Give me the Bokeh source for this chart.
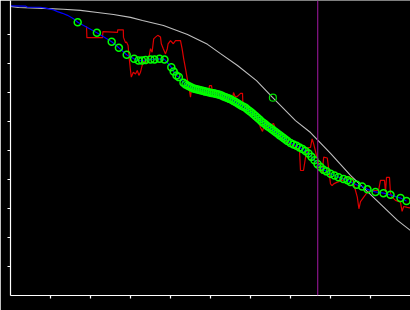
from bokeh.plotting import figure
from bokeh.models import Range1d, FixedTicker, Span
from bokeh.embed import file_html
from bokeh.resources import INLINE

# ---- data ----
tick_values = [10, 20, 30, 40, 50, 60, 70, 80, 90]

model_x = [0, 2, 8.25, 13.25, 17.5, 21.75, 25.75, 30, 33, 38.25, 44.25, 49.25, 52.5,
           56.75, 61.5, 65.5, 71.25, 75, 80, 85, 90.75, 96.75, 100]
model_y = [99.7, 99.3, 99.0, 98.7, 98.3, 97.6, 96.9, 95.9, 94.8, 93.1, 90.0, 86.6, 83.4,
           79.3, 74.1, 68.3, 60.3, 56.2, 49.0, 41.4, 33.8, 25.9, 22.4]

lead_x = [0, 3.75, 4.25, 7.5, 8.75, 10.5, 11.75, 13, 14.25, 15.75]
lead_y = [99.9, 99.8, 99.4, 99.4, 99.1, 98.6, 97.9, 97.3, 96.6, 95.4]

smooth_x = [16.8, 21.6, 25.3, 27.1, 29.05, 30.9, 32, 32.9, 33.75, 35, 36, 37.25, 38.5,
            40.2, 40.8, 41.5, 42.1,
            43.25, 43.75, 44.25, 44.75, 45.25, 45.75, 46.25, 46.75, 47.25, 47.75, 48.25,
            48.75, 49.25, 49.75, 50.25, 50.75, 51.25, 51.75, 52.25, 52.75, 53.25, 53.75,
            54.25, 54.75, 55.25, 55.75, 56.25, 56.75, 57.25, 57.75, 58.25, 58.75, 59.25,
            59.75, 60.25, 60.75, 61.25, 61.75, 62.25, 62.75, 63.25, 63.75, 64.25, 64.75,
            65.25, 65.75, 66.25, 66.75, 67.25, 67.75, 68.25, 68.75, 69.25, 70, 70.75, 71.5,
            72.25, 73, 73.75, 74.5, 75.25, 76, 76.75, 77.5, 78.25, 79, 80, 81, 82, 83.25,
            84.25, 85, 86.5, 87.9, 89.25, 91.25, 93.25, 95, 97.5, 99]
smooth_y = [94.2, 90.6, 87.5, 85.4, 83.0, 81.6, 81.0, 81.0, 81.2, 81.4, 81.4, 81.6, 81.4,
            78.7, 77.2, 75.9, 75.3,
            73.4, 72.8, 72.4, 72.1, 71.7, 71.4, 71.2, 71.0, 70.9, 70.7, 70.5,
            70.3, 70.2, 70.0, 69.8, 69.7, 69.6, 69.4, 69.2, 69.0, 68.6, 68.4,
            68.1, 67.8, 67.5, 67.1, 66.7, 66.3, 65.9, 65.4, 65.1, 64.7, 64.1,
            63.6, 63.1, 62.5, 61.9, 61.3, 60.7, 60.0, 59.5, 59.0, 58.4, 57.9,
            57.4, 56.9, 56.4, 55.9, 55.3, 54.8, 54.3, 53.8, 53.3, 52.6, 52.1, 51.6,
            51.0, 50.5, 49.8, 49.0, 47.8, 46.6, 45.3, 44.3, 43.4, 42.8, 42.0, 41.4, 40.8, 40.2,
            39.7, 39.1, 38.2, 37.6, 36.6, 35.7, 35.3, 34.7, 33.6, 32.6]

extra_x = [65.6]
extra_y = [68.2]

raw_x = [19, 19.1, 23, 23.1, 26.75, 26.8, 28.2, 28.25, 28.75, 29, 29.4, 29.6, 30, 30.2,
         30.7, 31.25, 31.7, 32.1, 32.5, 32.9, 33.3, 34, 34.6, 35, 35.4, 35.8, 36.25, 36.8,
         37.5, 37.7, 38.2, 38.75, 39.2, 39.4, 40, 40.7, 41.25, 42.5, 42.9, 43.3, 43.75,
         44.2, 44.6, 45, 45.2, 45.5, 46.5, 47.5, 48.75, 49.5, 49.75, 50.25, 50.5, 51.5, 53,
         54.5, 55.5, 55.75, 56.25, 57, 57.5, 58, 58.1, 58.75, 60, 61.25, 62, 62.5, 63, 63.5,
         64, 64.5, 65, 65.75, 66.5, 67.5, 68.75, 70, 71.25, 72.25, 72.5, 73.25, 73.75, 74.5,
         75, 75.4, 75.8, 76.7, 77.5, 77.9, 78.3, 79.2, 79.6, 80, 80.4, 80.8, 81.7, 83, 84.5,
         85.5, 86.25, 86.7, 87.1, 87.5, 88.3, 89.2, 90.5, 92, 92.5, 93.5, 93.75, 94, 94.75,
         95, 95.4, 96.25, 97.5, 97.9, 98.3, 99.2, 100]
raw_y = [92.8, 88.9, 88.9, 91.0, 90.7, 91.6, 91.6, 89.0, 87.2, 87.4, 86.2, 82.8, 77.6, 75.3,
         77.0, 76.4, 77.6, 75.9, 77.0, 79.3, 81.0, 79.9, 82.2, 85.1, 83.9, 88.5, 89.1, 89.7,
         89.1, 86.8, 85.1, 83.3, 85.1, 86.8, 87.9, 86.8, 87.9, 87.9, 85.1, 81.6, 78.2,
         74.7, 71.8, 68.4, 70.7, 71.4, 70.7, 70.3, 70.0, 70.3, 72.4, 72.4, 70.0, 69.7, 68.6,
         67.9, 67.6, 70.0, 68.3, 69.0, 69.7, 69.7, 66.2, 65.2, 63.4, 61.7, 60.3, 57.9, 56.6, 59.0,
         60.3, 57.6, 58.6, 59.3, 56.6, 54.5, 53.4, 52.4, 51.4, 50.0, 43.1, 43.1, 47.6, 51.0,
         51.1, 54.0, 52.3, 47.1, 43.6, 42.0, 47.7, 47.4, 43.1, 38.5, 37.9, 38.5, 39.1, 39.7, 41.0,
         40.3, 36.2, 33.9, 29.9, 32.4, 33.9, 35.6, 36.2, 36.2, 39.7, 39.7, 35.6, 40.7, 40.7,
         35.2, 33.9, 32.8, 32.2, 29.0, 30.7, 30.4, 30.2]

cut_x = 76.8

# ---- figure ----
p = figure(width=410, height=310, output_backend="svg", toolbar_location=None,
           x_range=Range1d(0, 100), y_range=Range1d(0, 101.72),
           min_border_left=10, min_border_right=0, min_border_top=0, min_border_bottom=15)
p.background_fill_color = "black"
p.border_fill_color = "black"
p.outline_line_color = None
p.grid.visible = False

for ax in (p.xaxis[0], p.yaxis[0]):
    ax.ticker = FixedTicker(ticks=tick_values)
    ax.major_label_overrides = {t: "" for t in tick_values}
    ax.axis_line_color = "white"
    ax.axis_line_width = 1.2
    ax.major_tick_line_color = "white"
    ax.major_tick_line_width = 1.2
    ax.minor_tick_line_color = None
    ax.major_tick_out = 3
    ax.major_tick_in = 0
    ax.major_label_text_font_size = "1px"
    ax.major_label_standoff = 0

p.add_layout(Span(location=cut_x, dimension="height", line_color="#8a148a", line_width=1.2))

p.line(model_x, model_y, line_color="#bebebe", line_width=1.1)
p.line(raw_x, raw_y, line_color="#dd0000", line_width=1.2)
p.line(lead_x + smooth_x, lead_y + smooth_y, line_color="#0000ff", line_width=1.2)
p.scatter(smooth_x, smooth_y, marker="circle", size=7, fill_color=None,
          line_color="#00ff00", line_width=1.5)
p.scatter(extra_x, extra_y, marker="circle", size=7, fill_color=None,
          line_color="#00dd00", line_width=1.2)

open("out.html", "w").write(file_html(p, INLINE))
